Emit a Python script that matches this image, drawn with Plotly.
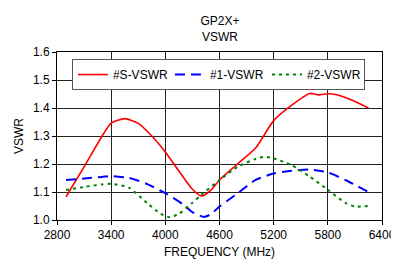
import plotly.graph_objects as go

freq_s = [2900, 3100, 3300, 3400, 3550, 3700, 3850, 4000, 4150, 4300, 4400, 4500, 4600, 4800, 5000, 5200, 5400, 5600, 5700, 5800, 5900, 6050, 6250]
vswr_s = [1.083, 1.19, 1.30, 1.346, 1.362, 1.345, 1.30, 1.243, 1.175, 1.11, 1.086, 1.105, 1.143, 1.20, 1.257, 1.355, 1.41, 1.452, 1.447, 1.451, 1.447, 1.43, 1.40]

freq_1 = [2900, 3100, 3300, 3400, 3600, 3800, 4000, 4200, 4300, 4430, 4500, 4600, 4800, 5000, 5200, 5400, 5600, 5800, 6000, 6250]
vswr_1 = [1.143, 1.148, 1.154, 1.157, 1.15, 1.128, 1.096, 1.055, 1.028, 1.011, 1.02, 1.048, 1.095, 1.143, 1.166, 1.176, 1.18, 1.17, 1.142, 1.10]

freq_2 = [2900, 3100, 3300, 3400, 3600, 3800, 3950, 4050, 4150, 4300, 4400, 4600, 4800, 5000, 5100, 5200, 5400, 5600, 5800, 6000, 6100, 6250]
vswr_2 = [1.107, 1.118, 1.127, 1.129, 1.115, 1.06, 1.022, 1.010, 1.022, 1.062, 1.09, 1.143, 1.19, 1.218, 1.226, 1.22, 1.196, 1.155, 1.108, 1.06, 1.048, 1.05]

x_ticks = [2800, 3400, 4000, 4600, 5200, 5800, 6400]
y_ticks = [1.0, 1.1, 1.2, 1.3, 1.4, 1.5, 1.6]

fig = go.Figure()
fig.add_trace(go.Scatter(x=freq_s, y=vswr_s, mode="lines", name="#S-VSWR",
                         line=dict(color="#ff0000", width=1.6, shape="spline", smoothing=0.6)))
fig.add_trace(go.Scatter(x=freq_1, y=vswr_1, mode="lines", name="#1-VSWR",
                         line=dict(color="#0000ff", width=2, dash="10px,6px", shape="spline", smoothing=0.6)))
fig.add_trace(go.Scatter(x=freq_2, y=vswr_2, mode="lines", name="#2-VSWR",
                         line=dict(color="#008000", width=2, dash="3px,4px", shape="spline", smoothing=0.6)))

# page body adds an 8px offset; figure sized to fill the rest of the window
fig.update_layout(
    width=391, height=257,
    margin=dict(l=49, r=17, t=44, b=45),
    paper_bgcolor="white", plot_bgcolor="white",
    font=dict(family="Liberation Sans, Arial, sans-serif", size=12, color="#000000"),
    title=dict(text="GP2X+<br>VSWR", x=(49 + 163) / 391, xanchor="center",
               yref="container", y=1 - 17 / 257, yanchor="middle",
               font=dict(size=12)),
    showlegend=True,
    legend=dict(orientation="h", x=0.046, y=0.958, xanchor="left", yanchor="top",
                bgcolor="white", bordercolor="#555555", borderwidth=1,
                entrywidth=52, entrywidthmode="pixels",
                font=dict(size=12), tracegroupgap=0, itemwidth=30),
    xaxis=dict(range=[2800, 6400], tickvals=x_ticks, ticktext=[str(v) for v in x_ticks],
               showgrid=True, gridcolor="#222222", gridwidth=1, automargin=False,
               showline=True, linecolor="#000000", linewidth=1, mirror=True,
               ticks="outside", ticklen=4, tickcolor="#000000", zeroline=False,
               ticklabeloverflow="allow",
               title=dict(text="FREQUENCY (MHz)", standoff=6, font=dict(size=12))),
    yaxis=dict(range=[1.0, 1.6], tickvals=y_ticks, ticktext=[f"{v:.1f}" for v in y_ticks],
               showgrid=True, gridcolor="#222222", gridwidth=1, automargin=False,
               showline=True, linecolor="#000000", linewidth=1, mirror=True,
               ticks="outside", ticklen=4, tickcolor="#000000", zeroline=False,
               title=dict(text="VSWR", standoff=6, font=dict(size=12))),
)

fig.write_html("out.html")
